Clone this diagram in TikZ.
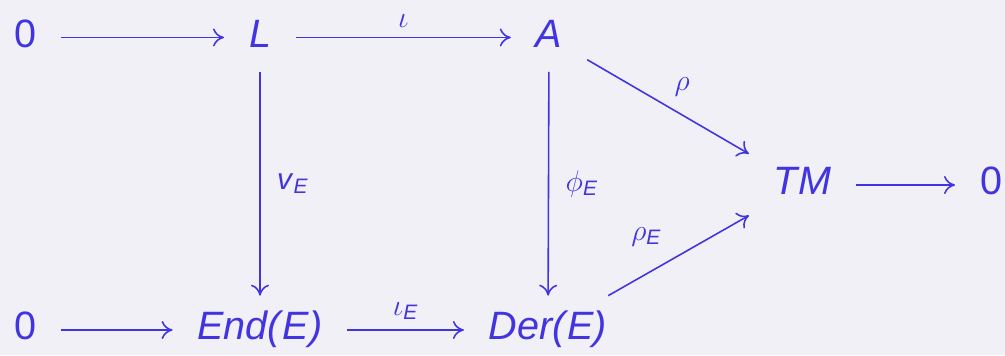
\documentclass[tikz,border=0pt]{standalone}
\usepackage{fix-cm}
\usepackage{amsmath}
\usepackage{fontspec}
\setsansfont{Liberation Sans}
\usepackage{tikz}
\usetikzlibrary{arrows.meta,positioning}

\definecolor{diagblue}{RGB}{66,52,224}
\definecolor{slidebg}{RGB}{240,240,246}
\newcommand{\sfit}[1]{\textsf{\textit{#1}}}

\begin{document}
\begin{tikzpicture}[
 obj/.style={text=diagblue,font=\fontsize{22.5}{26}\selectfont\sffamily,
   text height=16.5pt,text depth=5.5pt,inner xsep=.5cm,inner ysep=.3cm,
   outer sep=0pt},
 map/.style={-{To[length=2.2mm,width=3.6mm]},draw=diagblue,line width=.9pt},
 lab/.style={text=diagblue,font=\fontsize{17}{20}\selectfont\sffamily}
]
\fill[slidebg] (0,0) rectangle (20.1,7.1);
\useasboundingbox (0,0) rectangle (20.1,7.1);

\node[obj] (zeroL) at (0.5,6.35) {0};
\node[obj] (lie) at (5.2,6.35) {\itshape L};
\node[obj] (alg) at (10.98,6.35) {\itshape A};
\node[obj] (tm) at (16.05,3.4) {\itshape TM};
\node[obj] (zeroR) at (19.82,3.4) {0};
\node[obj] (zeroB) at (0.5,0.5) {0};
\node[obj] (endE) at (5.2,0.5) {\itshape End(\kern1pt E)};
\node[obj] (derE) at (10.96,0.5) {\itshape Der(\kern1pt E)};

\draw[map] (zeroL) -- (lie);
\draw[map] (lie) -- node[lab,above=2pt] {$\iota$} (alg);
\draw[map] (lie) -- node[lab,right=6pt] {$\sfit{v}_{\sfit{E}}$} (endE);
\draw[map] (alg) -- node[lab,right=6pt] {$\phi_{\sfit{E}}$} (derE);
\draw[map] (alg) -- node[lab,above right=2pt and 0pt] {$\rho$} (tm);
\draw[map] (derE) -- node[lab,pos=.45,above left=4pt and 2pt] {$\rho_{\sfit{E}}$} (tm);
\draw[map] (tm) -- (zeroR);
\draw[map] (zeroB) -- (endE);
\draw[map] (endE) -- node[lab,above=2pt] {$\iota_{\sfit{E}}$} (derE);
\end{tikzpicture}
\end{document}
